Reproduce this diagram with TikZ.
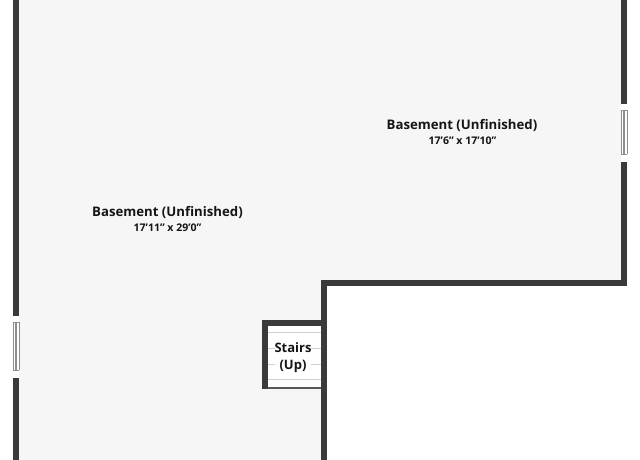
\documentclass[tikz,border=0pt]{standalone}
\usepackage{fontspec}
\setmainfont{Open Sans}
\definecolor{wallc}{HTML}{3A3A3A}
\definecolor{floorc}{HTML}{F6F6F6}
\definecolor{treadc}{HTML}{D0D0D0}
\definecolor{winc}{HTML}{8E8E8E}
\definecolor{textc}{HTML}{151515}
\tikzset{
  wall/.style={fill=wallc,draw=none},
  tread/.style={draw=treadc,line width=0.75pt},
  winline/.style={draw=winc,line width=0.7pt},
  roomname/.style={font=\fontsize{9.9pt}{11pt}\selectfont\bfseries,text=textc,inner sep=0pt},
  roomsize/.style={font=\fontsize{7.9pt}{9pt}\selectfont\bfseries,text=textc,inner sep=0pt},
  stairtext/.style={font=\fontsize{9.75pt}{12.75pt}\selectfont\bfseries,text=textc,align=center,inner sep=0pt,fill=white}
}
\begin{document}
\begin{tikzpicture}[x=0.75pt,y=-0.75pt]
\useasboundingbox (0,0) rectangle (640,460);
\fill[white] (0,0) rectangle (640,460);
% floor
\fill[floorc] (16,0) -- (624,0) -- (624,283) -- (324,283) -- (324,460) -- (16,460) -- cycle;
% stair treads
\fill[white] (268,326) rectangle (321,388);
\foreach \yy in {332,348,364,379} \draw[tread] (268,\yy) -- (321,\yy);
% walls
\path[wall] (13,0) rectangle (19,316);
\path[wall] (13,378) rectangle (19,460);
\path[wall] (621,0) rectangle (627,104);
\path[wall] (621,162) rectangle (627,286);
\path[wall] (321,280) rectangle (627,286);
\path[wall] (321,280) rectangle (327,460);
\path[wall] (262,320) rectangle (321,326);
\path[wall] (262,320) rectangle (268,389);
\fill[wallc!85!white] (268,387.4) rectangle (321,388.6);
% windows
\fill[white] (13,316) rectangle (19,378);
\draw[winline] (13,322) -- (13,370) (15.3,322) -- (15.3,370) (16.7,322) -- (16.7,370) (19,322) -- (19,370);
\draw[winline] (13,322) -- (19,322) (13,370) -- (19,370);
\fill[white] (621,104) rectangle (627,162);
\draw[winline] (621,110) -- (621,154) (623.3,110) -- (623.3,154) (624.7,110) -- (624.7,154) (627,110) -- (627,154);
\draw[winline] (621,110) -- (627,110) (621,154) -- (627,154);
% labels
\node[roomname] (roomA) at (462,125.5) {Basement (Unfinished)};
\node[roomsize] (sizeA) at (462.5,140.5) {17'6" x 17'10"};
\node[roomname] (roomB) at (167.5,212.5) {Basement (Unfinished)};
\node[roomsize] (sizeB) at (167.5,227.5) {17'11" x 29'0"};
\node[stairtext] (stairs) at (293,357.5) {Stairs\\(Up)};
\end{tikzpicture}
\end{document}
